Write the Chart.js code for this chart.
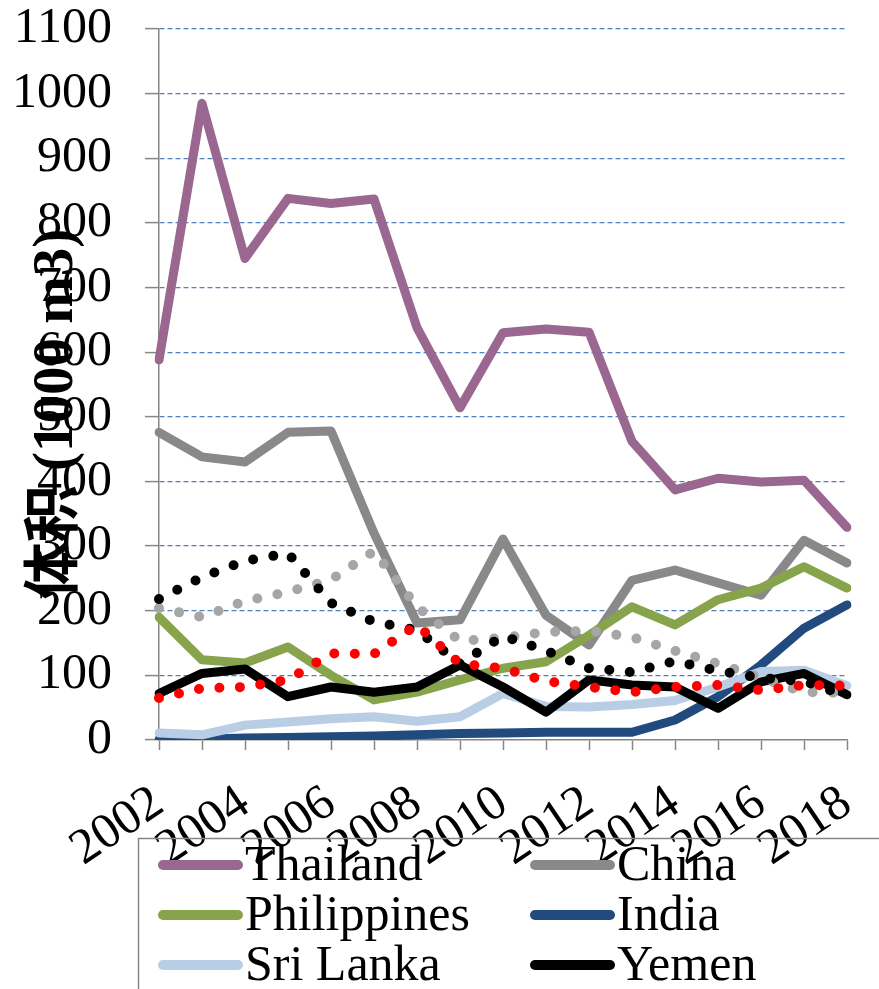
<!DOCTYPE html>
<html><head><meta charset="utf-8">
<script src="https://cdn.jsdelivr.net/npm/chart.js@4.4.1/dist/chart.umd.min.js"></script>
<style>html,body{margin:0;padding:0;background:#fff;overflow:hidden}canvas{display:block}</style>
</head><body>
<canvas id="c" width="879" height="989"></canvas>
<script>
// ---- data ----
const years = ['2002','2003','2004','2005','2006','2007','2008','2009','2010','2011','2012','2013','2014','2015','2016','2017','2018'];
const xTickLabels = ['2002','2004','2006','2008','2010','2012','2014','2016','2018'];
const yMin = 0, yMax = 1100, yStep = 100;
const yAxisTitle = '体积 (1000 m3)';
const seriesNames = ['Thailand','China','Philippines','India','Sri Lanka','Yemen'];

const thailand    = [588, 985, 745, 838, 830, 837, 638, 514, 630, 636, 631, 462, 387, 405, 399, 402, 329];
const china       = [476, 438, 430, 476, 478, 320, 181, 186, 311, 193, 147, 247, 263, 243, 224, 309, 274];
const philippines = [190, 124, 119, 144, 100, 62, 74, 93, 111, 121, 162, 206, 178, 217, 235, 268, 235];
const india       = [1, 1, 3, 4, 5, 6, 8, 10, 11, 12, 12, 12, 31, 67, 116, 173, 209];
const sriLanka    = [11, 8, 23, 28, 33, 36, 29, 36, 72, 52, 51, 55, 61, 82, 106, 108, 84];
const yemen       = [72, 103, 110, 67, 82, 74, 82, 116, 82, 43, 93, 85, 82, 49, 90, 103, 70];

// dotted (unlabelled) lines
const redDotted   = [65, 80, 82, 93, 134, 133, 178, 118, 111, 91, 82, 74, 82, 85, 77, 85, 84];
const blackDotted = [218, 252, 277, 289, 212, 183, 170, 118, 161, 138, 111, 105, 122, 107, 96, 91, 68];
const greyDotted  = [204, 190, 215, 229, 248, 292, 206, 153, 158, 167, 169, 159, 138, 118, 96, 74, 73];

// ---- styles ----
const colors = ['#9a6790', '#898989', '#87a34b', '#214a7e', '#b9cde5', '#000000'];
const seriesData = [thailand, china, philippines, india, sriLanka, yemen];

const SERIF = '"Liberation Serif", "Times New Roman", serif';
const FS = 50;

const datasets = seriesData.map((d, i) => ({
  label: seriesNames[i],
  data: d,
  borderColor: colors[i],
  backgroundColor: colors[i],
  borderWidth: 9,
  borderJoinStyle: 'round',
  borderCapStyle: 'round',
  pointRadius: 0,
  tension: 0,
  fill: false,
  order: 10 - i
}));
[[greyDotted, '#a6a6a6', 3], [blackDotted, '#000000', 2], [redDotted, '#ff0000', 1]].forEach(([d, c, o]) => {
  datasets.push({
    label: '', data: d, borderColor: c, backgroundColor: c,
    borderWidth: 10, borderDash: [0, 20.5], borderCapStyle: 'round',
    pointRadius: 0, tension: 0, fill: false, order: o
  });
});

const decor = {
  id: 'decor',
  afterDraw(chart) {
    const ctx = chart.ctx;
    ctx.save();
    // y-axis title, sized to span the same length as the reference
    const fam = '"Liberation Serif", "Noto Sans CJK SC", serif';
    ctx.font = 'bold 50px ' + fam;
    const w = ctx.measureText(yAxisTitle).width;
    const size = Math.round(50 * 372 / w);
    ctx.font = 'bold ' + size + 'px ' + fam;
    ctx.translate(57, 414);
    ctx.rotate(-Math.PI / 2);
    ctx.fillStyle = '#000';
    ctx.textAlign = 'center';
    ctx.textBaseline = 'middle';
    ctx.fillText(yAxisTitle, 0, 0);
    ctx.restore();

    // legend
    ctx.save();
    ctx.strokeStyle = '#868686';
    ctx.lineWidth = 1.5;
    ctx.strokeRect(138.5, 838.5, 800, 200);
    const colX = [163, 535];
    const rowY = [865, 915, 965];
    ctx.font = FS + 'px ' + SERIF;
    ctx.textBaseline = 'middle';
    ctx.textAlign = 'left';
    seriesNames.forEach((name, i) => {
      const x = colX[i % 2], y = rowY[Math.floor(i / 2)];
      ctx.strokeStyle = colors[i];
      ctx.lineWidth = 10;
      ctx.lineCap = 'round';
      ctx.beginPath();
      ctx.moveTo(x, y);
      ctx.lineTo(x + 75, y);
      ctx.stroke();
      ctx.fillStyle = '#000';
      ctx.fillText(name, x + 82, y + 2);
    });
    ctx.restore();
  }
};

new Chart(document.getElementById('c'), {
  type: 'line',
  data: { labels: years, datasets },
  options: {
    responsive: false,
    animation: false,
    devicePixelRatio: 1,
    layout: { padding: { left: 0, top: 29, right: 32, bottom: 109 } },
    plugins: { legend: { display: false }, tooltip: { enabled: false }, title: { display: false } },
    scales: {
      x: {
        offset: false,
        afterFit: (s) => { s.height = 140; s.paddingLeft = 0; s.paddingRight = 0; },
        grid: { display: true, drawOnChartArea: false, drawTicks: true, tickLength: 10, tickColor: '#868686', tickWidth: 1.5 },
        border: { display: true, color: '#868686', width: 1.5 },
        ticks: {
          autoSkip: false, minRotation: 34, maxRotation: 34, padding: 28,
          color: '#000', font: { family: SERIF, size: FS, lineHeight: 1 },
          callback: function (v, i) { const l = years[i]; return xTickLabels.includes(l) ? l : ''; }
        }
      },
      y: {
        min: yMin, max: yMax,
        afterFit: (s) => { s.width = 159; s.paddingTop = 0; s.paddingBottom = 0; },
        grid: {
          color: (c) => (c.tick && c.tick.value === 0 ? 'rgba(0,0,0,0)' : '#4f81bd'),
          lineWidth: 1.2, tickLength: 14, tickColor: '#868686', tickWidth: 1.5, tickBorderDash: []
        },
        border: { display: true, color: '#868686', width: 1.5, dash: [5, 3] },
        ticks: {
          stepSize: yStep, padding: 33, color: '#000', font: { family: SERIF, size: FS, lineHeight: 1.2 },
          callback: (v) => String(v)
        }
      }
    }
  },
  plugins: [decor]
});
</script>
</body></html>
